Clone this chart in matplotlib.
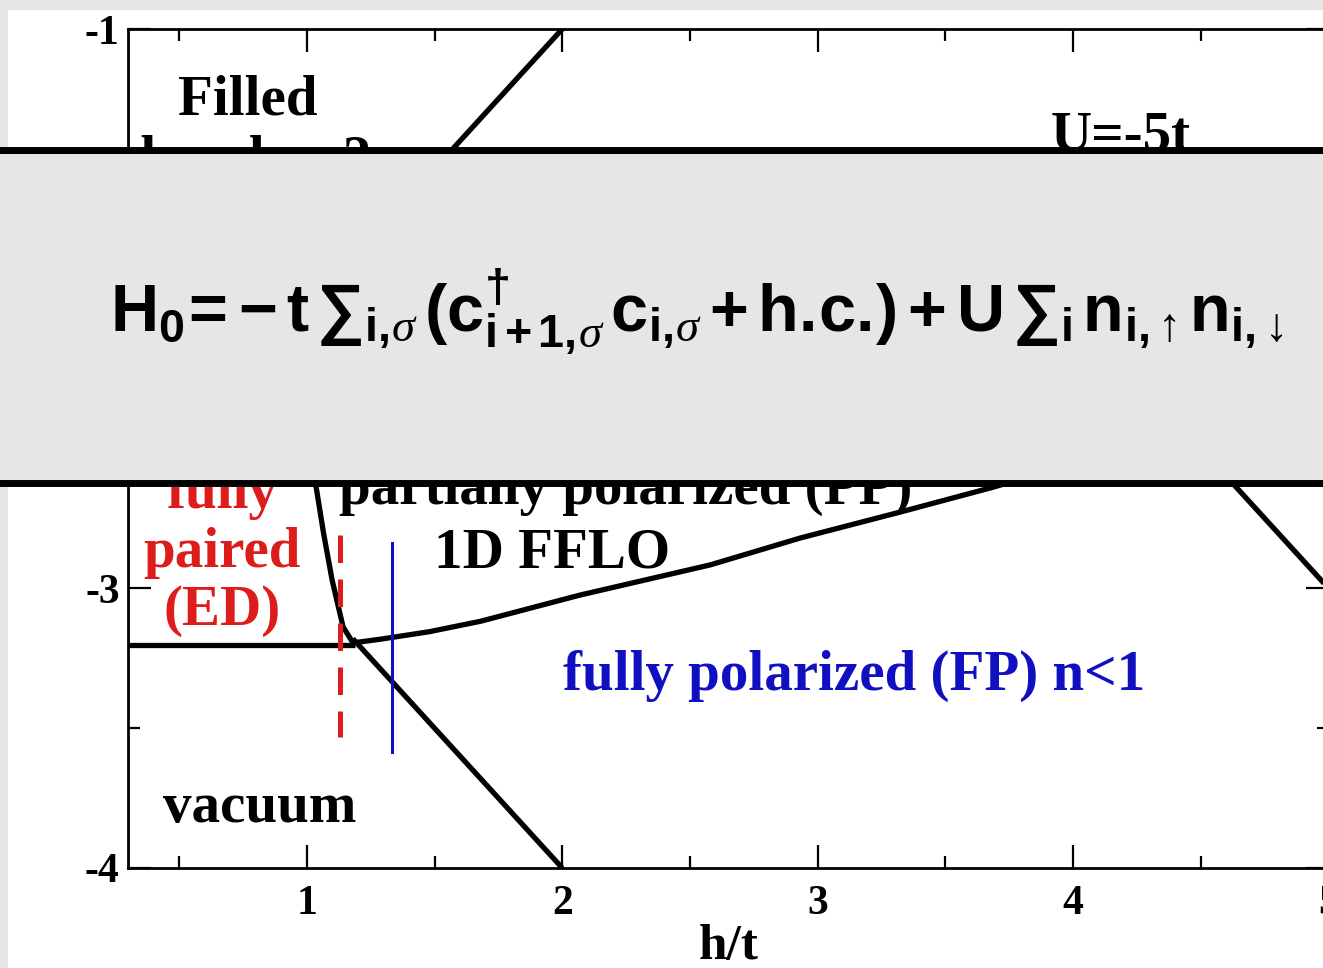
import matplotlib
matplotlib.use("Agg")
import matplotlib.pyplot as plt
from matplotlib.patches import Rectangle

plt.rcParams['axes.unicode_minus'] = False
plt.rcParams['mathtext.fontset'] = 'custom'
plt.rcParams['mathtext.rm'] = 'Liberation Sans:bold'
plt.rcParams['mathtext.bf'] = 'Liberation Sans:bold'
plt.rcParams['mathtext.it'] = 'Liberation Serif:italic'
plt.rcParams['mathtext.sf'] = 'Liberation Sans:bold'

# ---------------- data ----------------
x_major = [1, 2, 3, 4, 5]
x_minor = [0.5, 1.5, 2.5, 3.5, 4.5]
y_major = [-4, -3, -2, -1]
y_minor = [-3.5, -2.5, -1.5]
x_ticklabels = ['1', '2', '3', '4', '5']
y_ticklabels = ['-4', '-3', '-2', '-1']

# filled band boundary
band_h = [1.35, 2.0]
band_mu = [-1.65, -1.0]
# vacuum / fully polarized boundary
vac_fp_h = [1.18, 2.0]
vac_fp_mu = [-3.18, -4.0]
# vacuum / fully paired boundary (pair binding)
pair_h = [0.3, 1.19]
pair_mu = [-3.2016, -3.2016]
# fully paired / FFLO boundary (hc1)
hc1_h = [0.95, 1.0, 1.032, 1.065, 1.099, 1.142, 1.181]
hc1_mu = [-2.30, -2.45, -2.612, -2.80, -2.970, -3.138, -3.195]
# FFLO / fully polarized boundary (hc2)
hc2_h = [1.181, 1.287, 1.48, 1.679, 2.070, 2.580, 2.932, 3.324, 3.676, 3.95]
hc2_mu = [-3.195, -3.182, -3.155, -3.118, -3.024, -2.916, -2.820, -2.727, -2.641, -2.57]
# right boundary
right_h = [4.45, 5.0]
right_mu = [-2.45, -3.0]
# markers
red_x = [1.13, 1.13]
red_mu = [-2.81, -3.53]
blue_x = [1.334, 1.334]
blue_mu = [-2.838, -3.585]

# ---------------- figure ----------------
W, H = 1323, 968
fig = plt.figure(figsize=(W / 100, H / 100), dpi=100, facecolor='white')

# grey frame strips (top and left)
fig.patches.append(Rectangle((0, 1 - 10 / H), 1, 10 / H, transform=fig.transFigure,
                             facecolor='#e6e6e6', edgecolor='none', zorder=0))
fig.patches.append(Rectangle((0, 0), 8 / W, 1, transform=fig.transFigure,
                             facecolor='#e6e6e6', edgecolor='none', zorder=0))

ax_left = 128 / W
ax_right = 1328.6 / W
ax_bottom = (H - 868) / H
ax_top = (H - 29) / H
ax = fig.add_axes([ax_left, ax_bottom, ax_right - ax_left, ax_top - ax_bottom])
ax.set_facecolor('white')
ax.set_xlim(0.3, 5.0)
ax.set_ylim(-4, -1)

serif = 'Liberation Serif'
lw = 3.8
ax.plot(band_h, band_mu, color='black', lw=lw, solid_capstyle='butt')
ax.plot(vac_fp_h, vac_fp_mu, color='black', lw=lw, solid_capstyle='butt')
ax.plot(pair_h, pair_mu, color='black', lw=lw, solid_capstyle='butt')
ax.plot(hc1_h, hc1_mu, color='black', lw=lw, solid_joinstyle='round')
ax.plot(hc2_h, hc2_mu, color='black', lw=lw, solid_joinstyle='round')
ax.plot(right_h, right_mu, color='black', lw=lw, solid_capstyle='butt')
ax.plot(red_x, red_mu, color='#dd1c1c', lw=3.6, linestyle=(0, (5.5, 3.3)))
ax.plot(blue_x, blue_mu, color='#1010c0', lw=2.2)

# ticks
ax.set_xticks(x_major)
ax.set_xticklabels(x_ticklabels)
ax.set_xticks(x_minor, minor=True)
ax.set_yticks(y_major)
ax.set_yticklabels(y_ticklabels)
ax.set_yticks(y_minor, minor=True)
ax.tick_params(which='both', direction='in', top=True, right=True, width=1.6, colors='black')
ax.tick_params(which='major', length=16.5)
ax.tick_params(which='minor', length=8.6)
ax.tick_params(axis='x', which='major', pad=12)
ax.tick_params(axis='y', which='major', pad=6)
for lab in ax.get_xticklabels() + ax.get_yticklabels():
    lab.set_fontfamily(serif)
    lab.set_fontweight('bold')
    lab.set_fontsize(30)
for sp in ax.spines.values():
    sp.set_linewidth(2.0)
ax.set_xlabel('h/t', fontfamily=serif, fontweight='bold', fontsize=37, labelpad=1)

# region labels
tk = dict(fontfamily=serif, fontweight='bold', fontsize=41, va='baseline', ha='center')
ax.text(0.77, -1.307, 'Filled', **tk)
ax.text(0.80, -1.52, 'band n=2', **tk)
ax.text(4.186, -1.433, 'U=-5t', **tk)
ax.text(0.668, -2.713, 'fully', color='#dd1c1c', **tk)
ax.text(0.668, -2.923, 'paired', color='#dd1c1c', **tk)
ax.text(0.668, -3.131, '(ED)', color='#dd1c1c', **tk)
ax.text(2.247, -2.698, 'partially polarized (PP)', **tk)
ax.text(1.961, -2.927, '1D FFLO', **tk)
ax.text(3.144, -3.363, 'fully polarized (FP) n<1', color='#1010c0', **tk)
ax.text(0.817, -3.835, 'vacuum', **tk)

# banner with Hamiltonian
y0 = (H - 483) / H
y1 = (H - 149.5) / H
fig.patches.append(Rectangle((-0.02, y0), 1.04, y1 - y0, transform=fig.transFigure,
                             facecolor='#e6e6e6', edgecolor='black', linewidth=5.0, zorder=5))
formula = (r'$\mathbf{H_0\!=\!-t}\,{\sum}_{\mathbf{i},\!\sigma}\,(\mathbf{c}^{\dagger}_{\mathbf{i+1},\!\sigma}\,'
           r'\mathbf{c}_{\mathbf{i},\!\sigma}+\mathbf{h.\!c.\!})+\mathbf{U}\,{\sum}_{\mathbf{i}}\,'
           r'\mathbf{n}_{\mathbf{i},\!\uparrow}\mathbf{n}_{\mathbf{i},\!\downarrow}$')
fig.text(697 / W, (H - 332) / H, formula, ha='center', va='baseline', fontsize=48,
         color='black', zorder=6)

fig.savefig('out.png', dpi=100, facecolor=fig.get_facecolor())
